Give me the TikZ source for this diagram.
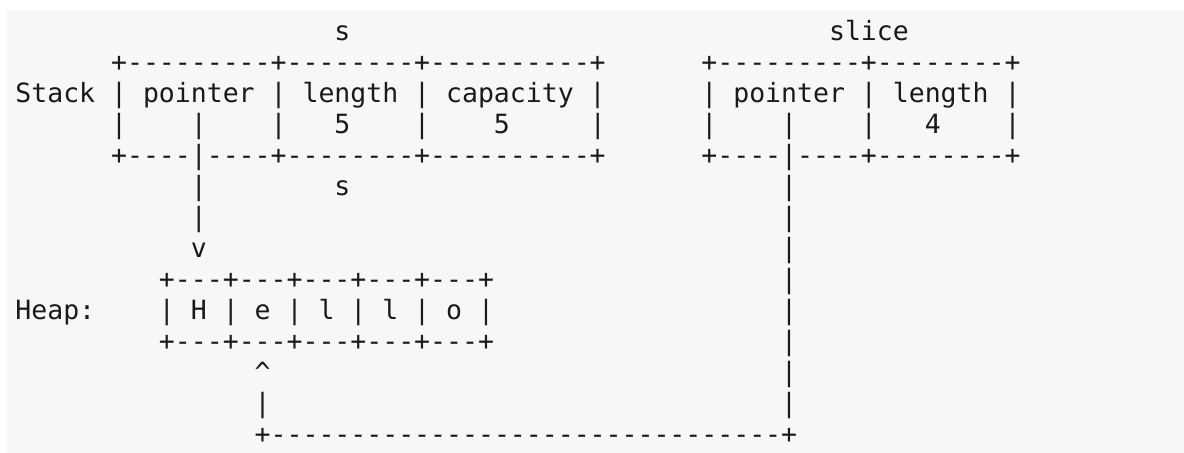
\documentclass[tikz,border=0pt]{standalone}
\usepackage{fontspec}
\setmonofont{DejaVu Sans Mono}
\definecolor{panel}{HTML}{F7F7F7}
\definecolor{ink}{HTML}{1A1A1A}
% blank run of n character cells of the monospaced font
\newcommand\gap[1]{\hspace*{#1\fontdimen2\font}}
\newcommand\caret{\textasciicircum}
\begin{document}
\begin{tikzpicture}[x=0.5pt,y=-0.5pt,
  asciirow/.style={anchor=base west,inner sep=0pt,outer sep=0pt,text=ink,
    font=\ttfamily\fontsize{13.25}{15}\selectfont\frenchspacing}]
\useasboundingbox (0,0) rectangle (1184,453);
\fill[white] (0,0) rectangle (1184,453);
\fill[panel] (7,10) rectangle (1184,453);
\def\lx{15.4}
\def\by{40.2}
\def\dy{31.0}
\node[asciirow] (r0)  at (\lx,\by+0*\dy)  {\gap{20}s\gap{30}slice};
\node[asciirow] (r1)  at (\lx,\by+1*\dy)  {\gap{6}+---------+--------+----------+\gap{6}+---------+--------+};
\node[asciirow] (r2)  at (\lx,\by+2*\dy)  {Stack | pointer | length | capacity |\gap{6}| pointer | length |};
\node[asciirow] (r3)  at (\lx,\by+3*\dy)  {\gap{6}|\gap{4}|\gap{4}|\gap{3}5\gap{4}|\gap{4}5\gap{5}|\gap{6}|\gap{4}|\gap{4}|\gap{3}4\gap{4}|};
\node[asciirow] (r4)  at (\lx,\by+4*\dy)  {\gap{6}+----|----+--------+----------+\gap{6}+----|----+--------+};
\node[asciirow] (r5)  at (\lx,\by+5*\dy)  {\gap{11}|\gap{8}s\gap{27}|};
\node[asciirow] (r6)  at (\lx,\by+6*\dy)  {\gap{11}|\gap{36}|};
\node[asciirow] (r7)  at (\lx,\by+7*\dy)  {\gap{11}v\gap{36}|};
\node[asciirow] (r8)  at (\lx,\by+8*\dy)  {\gap{9}+---+---+---+---+---+\gap{18}|};
\node[asciirow] (r9)  at (\lx,\by+9*\dy)  {Heap:\gap{4}| H | e | l | l | o |\gap{18}|};
\node[asciirow] (r10) at (\lx,\by+10*\dy) {\gap{9}+---+---+---+---+---+\gap{18}|};
\node[asciirow] (r11) at (\lx,\by+11*\dy) {\gap{15}\caret\gap{32}|};
\node[asciirow] (r12) at (\lx,\by+12*\dy) {\gap{15}|\gap{32}|};
\node[asciirow] (r13) at (\lx,\by+13*\dy) {\gap{15}+--------------------------------+};
\end{tikzpicture}
\end{document}
